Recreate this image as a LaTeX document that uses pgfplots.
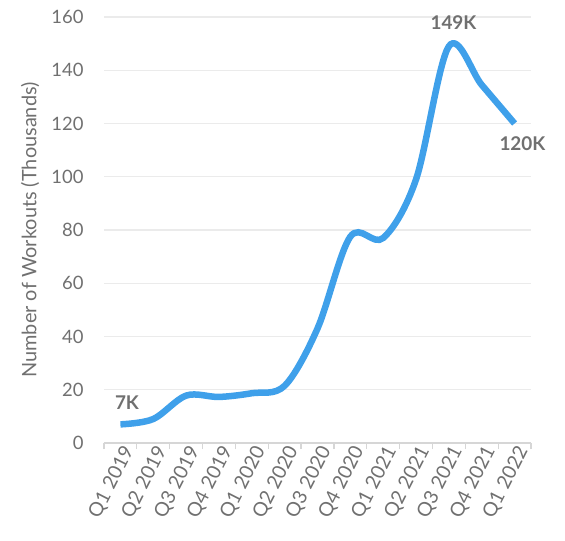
\documentclass[border=0pt]{standalone}
\usepackage{pgfplots}
\pgfplotsset{compat=1.18}
\usepackage{fontspec}
\setmainfont{Lato}
\definecolor{lineblue}{HTML}{3FA0EA}
\definecolor{txtgray}{HTML}{707070}
\definecolor{gridgray}{HTML}{EBEBEB}
\definecolor{axgray}{HTML}{D6D6D6}
\begin{document}
\begin{tikzpicture}
\begin{axis}[
  at={(0,0)}, anchor=south west,
  scale only axis, width=427bp, height=426bp,
  xmin=-0.5, xmax=12.5, ymin=0, ymax=160,
  clip=false,
  ytick={0,20,...,160},
  xtick={0,...,12},
  xticklabels={Q1 2019,Q2 2019,Q3 2019,Q4 2019,Q1 2020,Q2 2020,Q3 2020,Q4 2020,Q1 2021,Q2 2021,Q3 2021,Q4 2021,Q1 2022},
  minor xtick={-0.5,0.5,...,12.5},
  major tick length=0pt, minor tick length=6bp,
  tick align=outside,
  axis x line*=bottom, axis y line*=left,
  y axis line style={draw=none},
  x axis line style={axgray, line width=1.2bp},
  minor x tick style={axgray, line width=1.2bp},
  ytick style={draw=none},
  ymajorgrids, grid style={gridgray, line width=1.2bp},
  /pgf/number format/assume math mode=true,
  tick label style={font=\fontsize{18.5}{18.5}\selectfont, text=txtgray},
  yticklabel style={xshift=-17bp},
  xticklabel style={rotate=63, anchor=east, yshift=-10bp, xshift=3bp, font=\fontsize{19.5}{19.5}\selectfont},
  ylabel={Number of Workouts (Thousands)},
  ylabel style={at={(rel axis cs:0,0.5)}, anchor=center, xshift=0bp, yshift=74bp, font=\fontsize{20}{20}\selectfont, text=txtgray},
]
\addplot[lineblue, line width=6.5bp, smooth, tension=0.55] coordinates {
  (0,7) (1,9) (2,17.8) (3,17.3) (4,18.7) (5,21.5) (6,43) (7,77.5) (8,77) (9,99) (10,149) (11,134.5) (12,120)
};
\node[font=\fontsize{19}{19}\selectfont\bfseries, text=txtgray] at (axis cs:0.2,15) {7K};
\node[font=\fontsize{19}{19}\selectfont\bfseries, text=txtgray] at (axis cs:10.14,158) {149K};
\node[font=\fontsize{19}{19}\selectfont\bfseries, text=txtgray] at (axis cs:12.24,112.4) {120K};
\end{axis}
\pgfresetboundingbox
\path[use as bounding box] (-104bp,-98bp) rectangle (461bp,443bp);
\end{tikzpicture}
\end{document}
